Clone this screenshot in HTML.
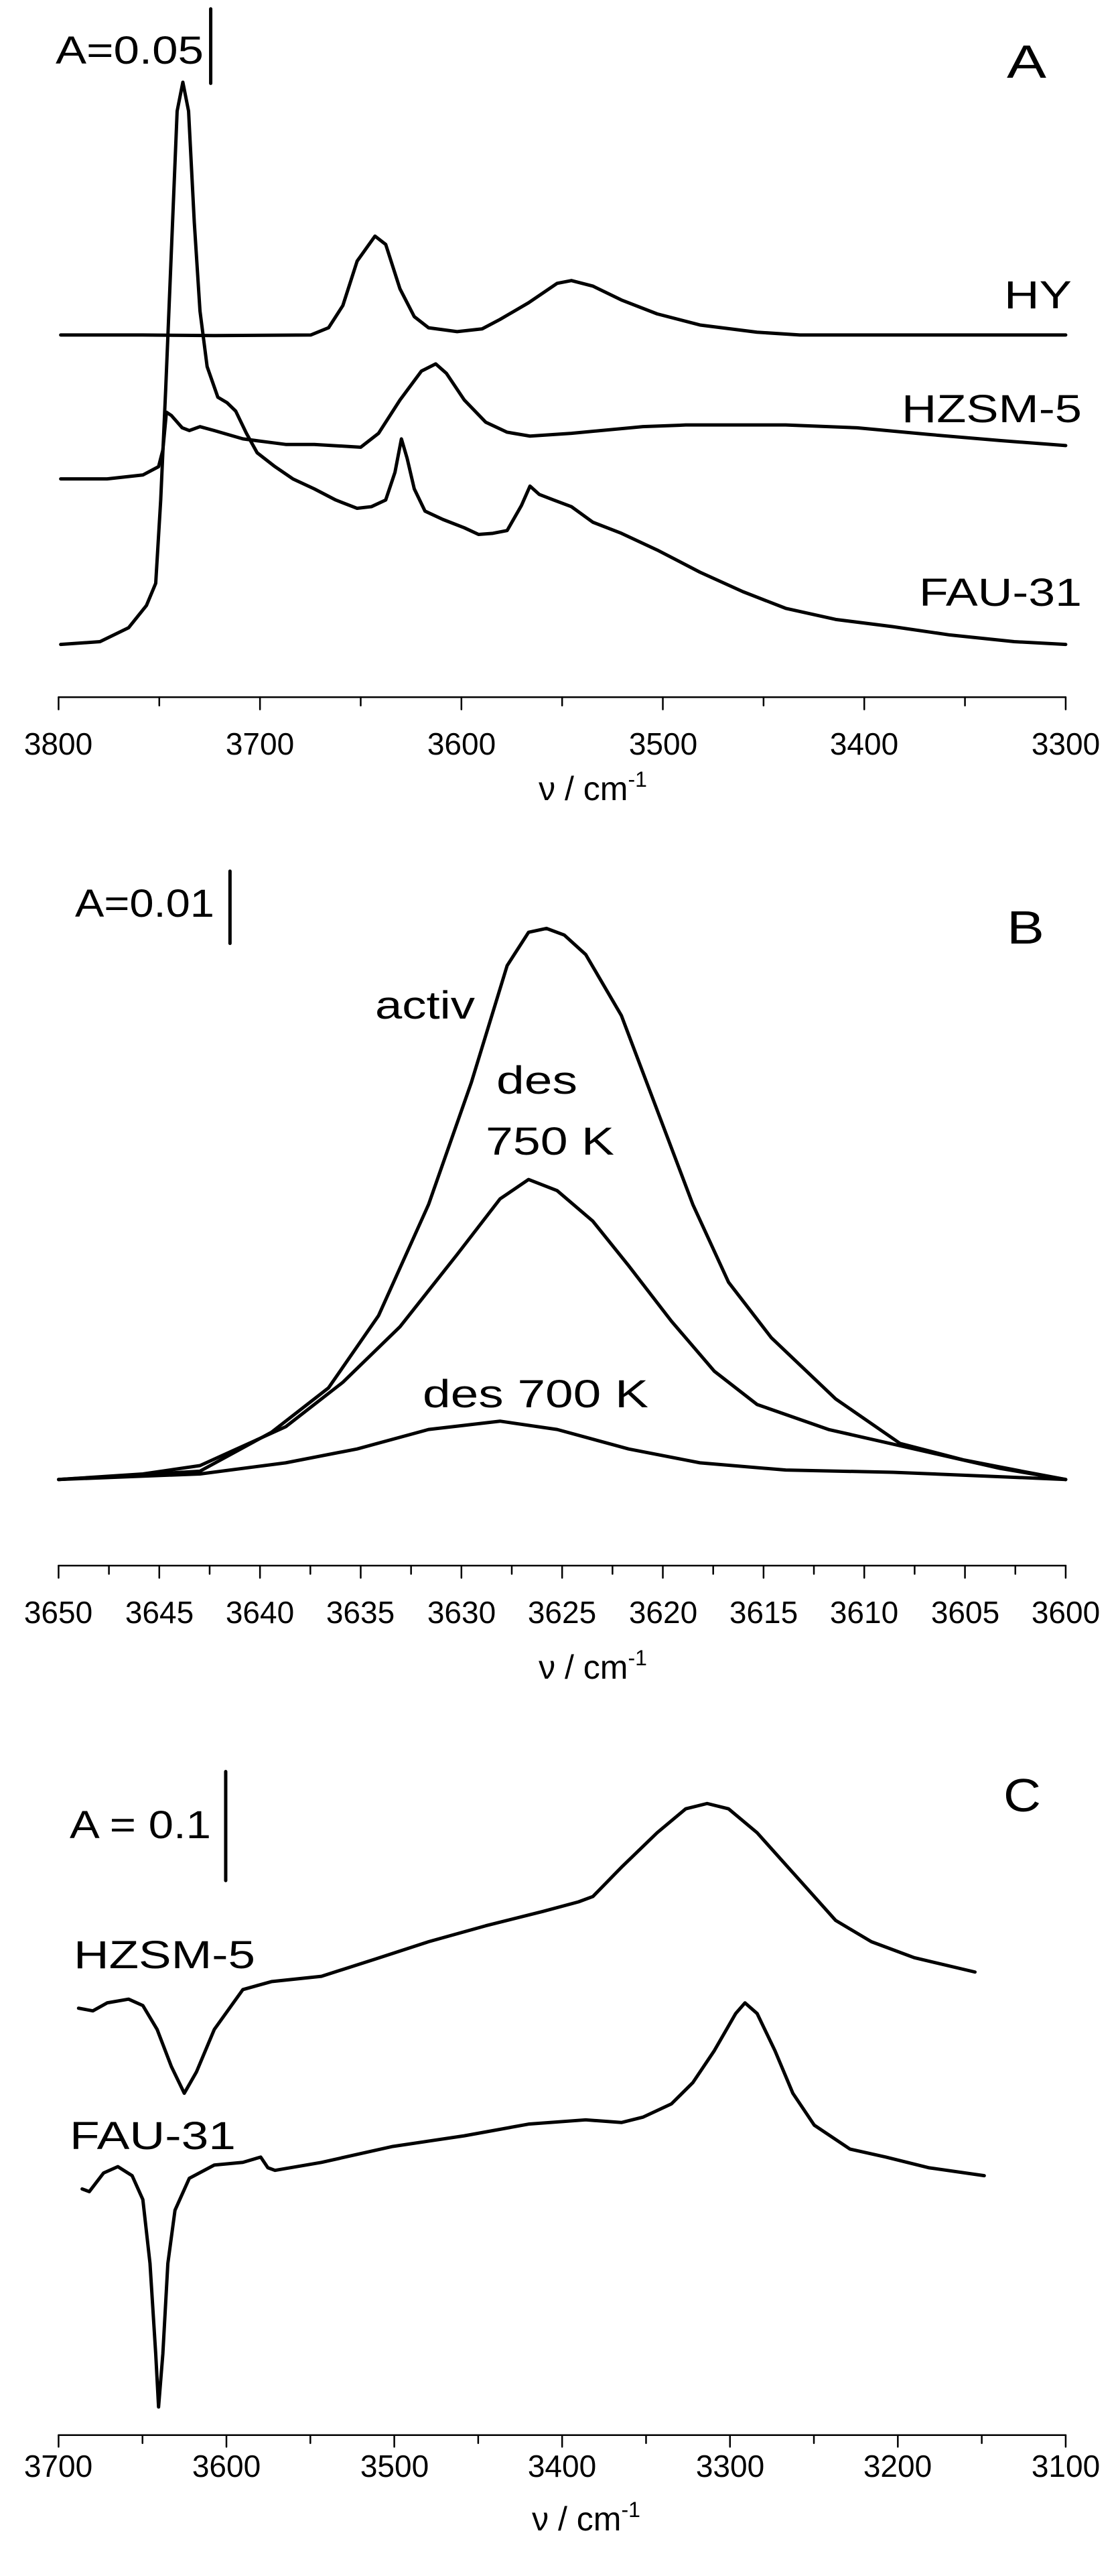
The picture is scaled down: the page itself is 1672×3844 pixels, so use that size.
<!DOCTYPE html>
<html><head><meta charset="utf-8"><style>html,body{margin:0;padding:0;background:#fff;overflow:hidden}svg{display:block}text{font-family:"Liberation Sans",sans-serif;fill:#000}</style></head><body>
<svg width="1672" height="3844" viewBox="0 0 1672 3844" xmlns="http://www.w3.org/2000/svg">
<g fill="none" stroke="#000" stroke-linejoin="round" stroke-linecap="round">
 <!-- Panel A -->
 <g transform="scale(1.0663,0.829)">
  <line vector-effect="non-scaling-stroke" x1="82" y1="1255" x2="1492" y2="1255" stroke-width="2.5"/>
  <path vector-effect="non-scaling-stroke" stroke-width="2.5" d="M82 1255v22M364 1255v22M646 1255v22M928 1255v22M1210 1255v22M1492 1255v22M223 1255v15M505 1255v15M787 1255v15M1069 1255v15M1351 1255v15"/>
  <line vector-effect="non-scaling-stroke" x1="295" y1="16" x2="295" y2="150" stroke-width="5"/>
  <polyline vector-effect="non-scaling-stroke" stroke-width="5" points="85,603 200,603 300,604 435,603 460,590 480,550 500,470 525,425 540,440 560,520 580,570 600,590 640,597 675,592 700,575 740,545 780,510 800,505 830,515 870,540 920,565 980,585 1060,598 1120,603 1492,603"/>
  <polyline vector-effect="non-scaling-stroke" stroke-width="5" points="85,862 150,862 200,855 222,840 228,810 233,742 240,748 255,770 265,775 280,768 300,775 340,790 370,795 400,800 440,800 505,805 530,780 560,720 590,668 610,655 625,672 650,720 680,760 710,778 742,785 800,780 900,768 960,765 1100,765 1200,770 1300,782 1400,793 1492,802"/>
  <polyline vector-effect="non-scaling-stroke" stroke-width="5" points="85,1160 140,1155 180,1130 205,1090 218,1050 225,900 232,700 240,450 248,200 256,148 264,200 272,400 280,560 290,660 305,715 318,725 330,740 345,780 360,815 385,840 410,862 440,880 470,900 500,915 520,912 540,900 553,850 562,790 570,825 580,880 595,920 620,935 650,950 670,962 690,960 710,955 730,910 742,875 755,890 775,900 800,912 830,940 870,960 920,990 980,1030 1040,1065 1100,1095 1170,1115 1250,1128 1330,1143 1420,1155 1492,1160"/>
 </g>
 <!-- Panel B -->
 <g transform="translate(0,1300) scale(1.0663,0.829)">
  <line vector-effect="non-scaling-stroke" x1="82" y1="1250" x2="1492" y2="1250" stroke-width="2.5"/>
  <path vector-effect="non-scaling-stroke" stroke-width="2.5" d="M82 1250v22M223 1250v22M364 1250v22M505 1250v22M646 1250v22M787 1250v22M928 1250v22M1069 1250v22M1210 1250v22M1351 1250v22M1492 1250v22M152.5 1250v15M293.5 1250v15M434.5 1250v15M575.5 1250v15M716.5 1250v15M857.5 1250v15M998.5 1250v15M1139.5 1250v15M1280.5 1250v15M1421.5 1250v15"/>
  <line vector-effect="non-scaling-stroke" x1="322" y1="0" x2="322" y2="130" stroke-width="5"/>
  <polyline vector-effect="non-scaling-stroke" stroke-width="5" points="82,1095 280,1080 380,1010 460,930 530,800 600,600 660,380 710,170 740,110 765,103 790,115 820,150 870,260 920,430 970,600 1020,740 1080,840 1170,950 1260,1030 1350,1060 1430,1080 1492,1095"/>
  <polyline vector-effect="non-scaling-stroke" stroke-width="5" points="82,1095 200,1085 280,1070 400,1000 480,920 560,820 640,690 700,590 740,555 780,575 830,630 880,710 940,810 1000,900 1060,960 1160,1005 1280,1040 1400,1075 1492,1095"/>
  <polyline vector-effect="non-scaling-stroke" stroke-width="5" points="82,1095 280,1085 400,1065 500,1040 600,1005 700,990 780,1005 880,1040 980,1065 1100,1078 1250,1082 1400,1090 1492,1095"/>
 </g>
 <!-- Panel C -->
 <g transform="translate(0,2600) scale(1.0663,0.7934)">
  <line vector-effect="non-scaling-stroke" x1="82" y1="1303" x2="1492" y2="1303" stroke-width="2.5"/>
  <path vector-effect="non-scaling-stroke" stroke-width="2.5" d="M82 1303v22M317 1303v22M552 1303v22M787 1303v22M1022 1303v22M1257 1303v22M1492 1303v22M199.5 1303v15M434.5 1303v15M669.5 1303v15M904.5 1303v15M1139.5 1303v15M1374.5 1303v15"/>
  <line vector-effect="non-scaling-stroke" x1="316" y1="55" x2="316" y2="260" stroke-width="5"/>
  <polyline vector-effect="non-scaling-stroke" stroke-width="5" points="110,500 130,505 150,490 180,483 200,495 220,540 240,610 258,660 275,620 300,540 340,465 380,450 450,440 520,410 600,375 680,345 760,318 810,300 830,290 870,235 920,170 960,125 990,115 1020,125 1060,170 1110,245 1170,335 1220,375 1280,405 1365,432"/>
  <polyline vector-effect="non-scaling-stroke" stroke-width="5" points="115,840 125,845 145,810 165,798 185,815 200,860 210,980 218,1150 222,1250 228,1150 235,980 245,880 265,820 300,795 340,790 365,780 375,800 385,805 450,790 550,760 650,740 740,718 820,710 870,715 900,705 940,680 970,640 1000,580 1030,510 1043,490 1060,510 1085,580 1110,660 1140,720 1190,765 1240,780 1300,800 1378,815"/>
 </g>
</g>
<g font-size="46">
 <!-- Panel A text -->
 <text x="83" y="95" font-size="58" textLength="221" lengthAdjust="spacingAndGlyphs">A=0.05</text>
 <text x="1503" y="116" font-size="70" textLength="59" lengthAdjust="spacingAndGlyphs">A</text>
 <text x="1499" y="460" font-size="58" textLength="101" lengthAdjust="spacingAndGlyphs">HY</text>
 <text x="1346" y="630" font-size="58" textLength="269" lengthAdjust="spacingAndGlyphs">HZSM-5</text>
 <text x="1372" y="904" font-size="58" textLength="243" lengthAdjust="spacingAndGlyphs">FAU-31</text>
 <g text-anchor="middle"><text x="87" y="1126">3800</text><text x="388" y="1126">3700</text><text x="689" y="1126">3600</text><text x="990" y="1126">3500</text><text x="1290" y="1126">3400</text><text x="1591" y="1126">3300</text></g>
 <text x="885" y="1194" font-size="50" text-anchor="middle">ν / cm<tspan dy="-20" font-size="32">-1</tspan></text>
 <!-- Panel B text -->
 <text x="112" y="1368" font-size="58" textLength="208" lengthAdjust="spacingAndGlyphs">A=0.01</text>
 <text x="1503" y="1408" font-size="70" textLength="56" lengthAdjust="spacingAndGlyphs">B</text>
 <text x="560" y="1520" font-size="58" textLength="149" lengthAdjust="spacingAndGlyphs">activ</text>
 <text x="741" y="1632" font-size="58" textLength="121" lengthAdjust="spacingAndGlyphs">des</text>
 <text x="725" y="1723" font-size="58" textLength="192" lengthAdjust="spacingAndGlyphs">750 K</text>
 <text x="631" y="2100" font-size="58" textLength="337" lengthAdjust="spacingAndGlyphs">des 700 K</text>
 <g text-anchor="middle"><text x="87" y="2422">3650</text><text x="238" y="2422">3645</text><text x="388" y="2422">3640</text><text x="538" y="2422">3635</text><text x="689" y="2422">3630</text><text x="839" y="2422">3625</text><text x="990" y="2422">3620</text><text x="1140" y="2422">3615</text><text x="1290" y="2422">3610</text><text x="1441" y="2422">3605</text><text x="1591" y="2422">3600</text></g>
 <text x="885" y="2505" font-size="50" text-anchor="middle">ν / cm<tspan dy="-20" font-size="32">-1</tspan></text>
 <!-- Panel C text -->
 <text x="104" y="2743" font-size="58" textLength="211" lengthAdjust="spacingAndGlyphs">A = 0.1</text>
 <text x="1498" y="2703" font-size="70" textLength="56" lengthAdjust="spacingAndGlyphs">C</text>
 <text x="110" y="2937" font-size="58" textLength="271" lengthAdjust="spacingAndGlyphs">HZSM-5</text>
 <text x="104" y="3207" font-size="58" textLength="248" lengthAdjust="spacingAndGlyphs">FAU-31</text>
 <g text-anchor="middle"><text x="87" y="3696">3700</text><text x="338" y="3696">3600</text><text x="589" y="3696">3500</text><text x="839" y="3696">3400</text><text x="1090" y="3696">3300</text><text x="1340" y="3696">3200</text><text x="1591" y="3696">3100</text></g>
 <text x="875" y="3776" font-size="50" text-anchor="middle">ν / cm<tspan dy="-20" font-size="32">-1</tspan></text>
</g>
</svg>
</body></html>
